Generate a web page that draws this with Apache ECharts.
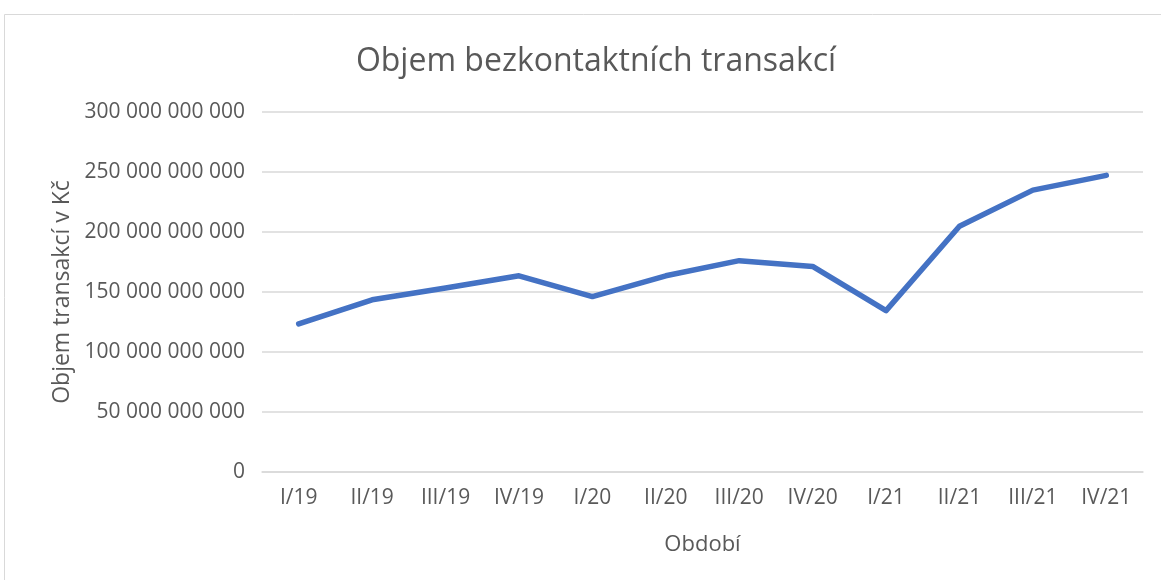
<!DOCTYPE html>
<html>
<head>
<meta charset="utf-8">
<script src="https://cdn.jsdelivr.net/npm/echarts@6/dist/echarts.min.js"></script>
<style>
  html, body { margin: 0; padding: 0; background: #fff; }
  #chart { width: 1161px; height: 580px; }
</style>
</head>
<body>
<div id="chart"></div>
<script>
// quarters
var periods = ['I/19', 'II/19', 'III/19', 'IV/19', 'I/20', 'II/20', 'III/20', 'IV/20', 'I/21', 'II/21', 'III/21', 'IV/21'];
// volume of contactless transactions, CZK
var volumes = [123400000000, 143500000000, 153300000000, 163500000000, 146200000000, 163500000000,
  176100000000, 171300000000, 134500000000, 204800000000, 234900000000, 247200000000];

var chart = echarts.init(document.getElementById('chart'));

function fmt(v) {
  return String(v).replace(/\B(?=(\d{3})+(?!\d))/g, ' ');
}

var option = {
  animation: false,
  textStyle: { fontFamily: 'Open Sans' },
  title: {
    text: 'Objem bezkontaktních transakcí',
    left: 591,
    top: 41,
    textAlign: 'center',
    textStyle: { color: '#595959', fontSize: 32, fontWeight: 'normal', fontFamily: 'Open Sans' }
  },
  graphic: [{
    type: 'rect',
    shape: { x: 4.5, y: 14.5, width: 1200, height: 600 },
    style: { fill: 'none', stroke: '#d9d9d9', lineWidth: 1 },
    silent: true
  }],
  grid: { left: 262, right: 18, top: 112, bottom: 108 },
  xAxis: {
    type: 'category',
    data: periods,
    boundaryGap: true,
    name: 'Období',
    nameLocation: 'middle',
    nameGap: 62,
    nameTextStyle: { color: '#595959', fontSize: 22 },
    axisLine: { show: true, lineStyle: { color: '#d9d9d9', width: 1.5 } },
    axisTick: { show: false },
    axisLabel: { color: '#595959', fontSize: 21, margin: 16 }
  },
  yAxis: {
    type: 'value',
    min: 0,
    max: 300000000000,
    interval: 50000000000,
    name: 'Objem transakcí v Kč',
    nameLocation: 'middle',
    nameGap: 187,
    nameTextStyle: { color: '#595959', fontSize: 23 },
    axisLine: { show: false },
    axisTick: { show: false },
    axisLabel: { color: '#595959', fontSize: 21, margin: 17, formatter: fmt },
    splitLine: { lineStyle: { color: '#d9d9d9', width: 1.5 } }
  },
  series: [{
    type: 'line',
    data: volumes,
    symbol: 'none',
    lineStyle: { color: '#4472C4', width: 5.5, cap: 'round', join: 'round' }
  }]
};

chart.setOption(option);
</script>
</body>
</html>
